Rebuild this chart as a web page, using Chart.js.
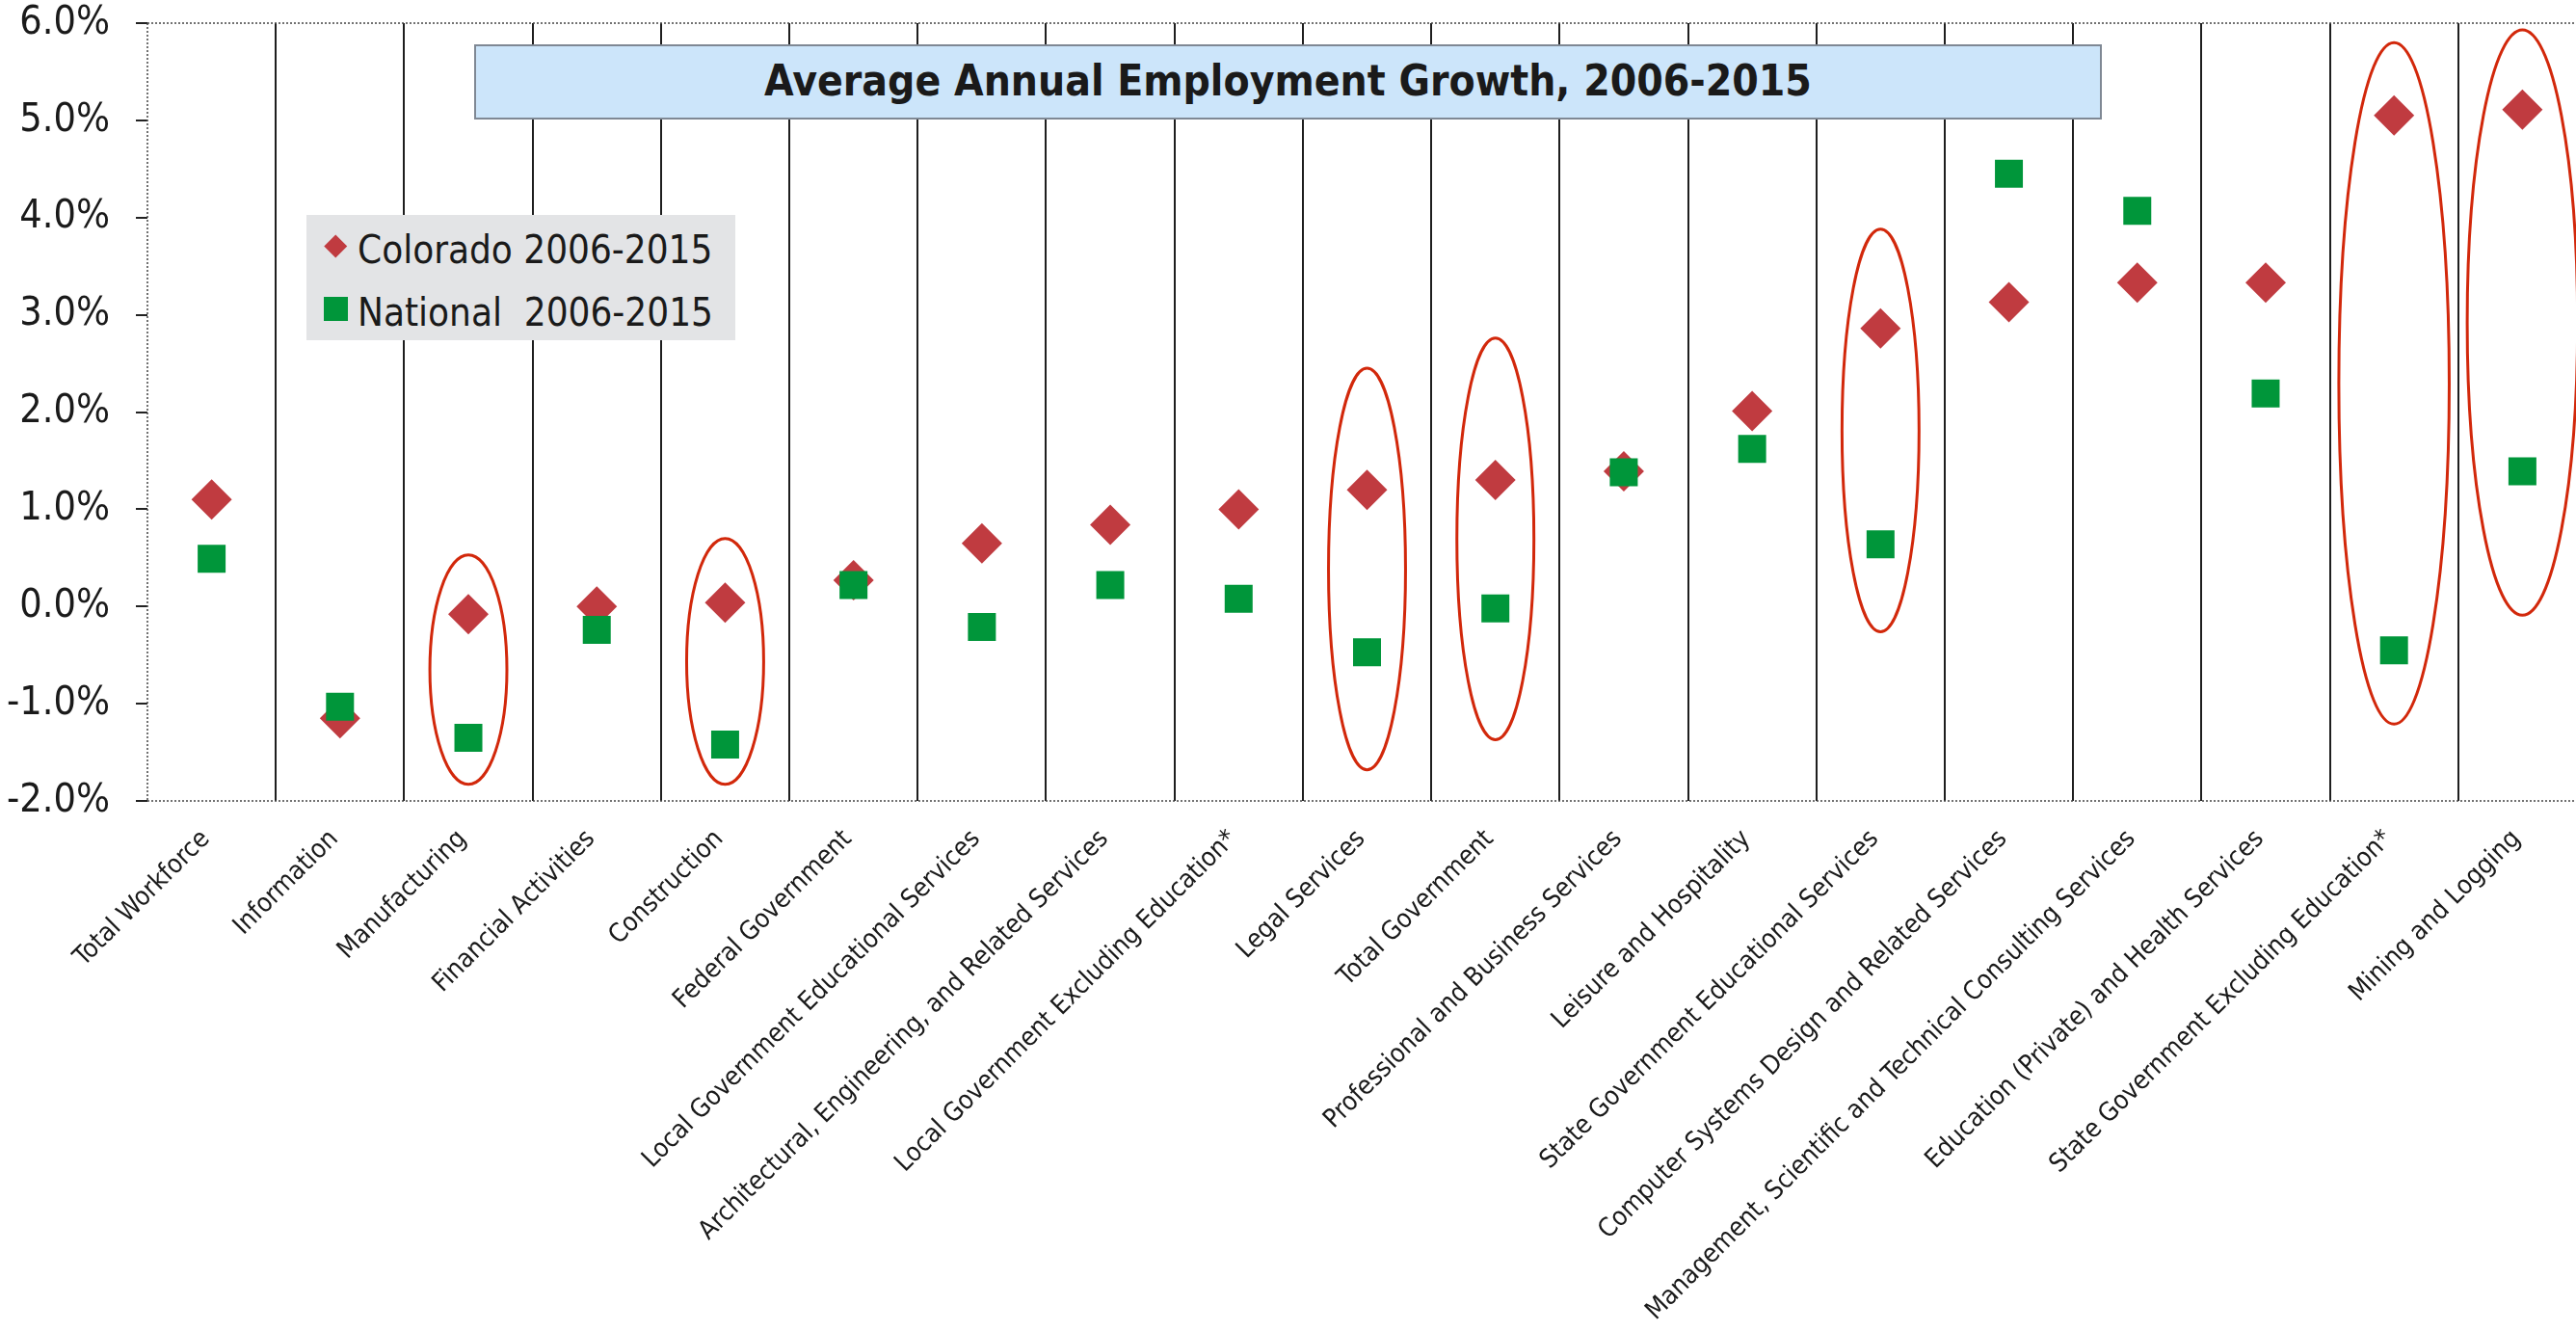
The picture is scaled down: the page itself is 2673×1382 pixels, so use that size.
<!DOCTYPE html>
<html>
<head>
<meta charset="utf-8">
<title>Average Annual Employment Growth, 2006-2015</title>
<script src="https://cdn.jsdelivr.net/npm/chart.js@4.4.1/dist/chart.umd.min.js"></script>
<style>
    html, body { margin: 0; padding: 0; background: #fff; overflow: hidden; }
    #wrap { position: relative; width: 2684px; height: 1382px; }
    #growthChart { position: absolute; left: 0; top: 0; }
    #titleBox {
        position: absolute; left: 492px; top: 46px; width: 1689px; height: 78px;
        box-sizing: border-box; background: #cce5fa; border: 2px solid #7f8894;
        font-family: 'DejaVu Sans Condensed', 'DejaVu Sans', sans-serif; font-weight: bold;
        font-size: 44px; line-height: 72px; text-align: center; color: #1a1a1a;
    }
    #legendBox {
        position: absolute; left: 318px; top: 223px; width: 445px; height: 130px;
        background: #e3e4e6; color: #1a1a1a;
        font-family: 'DejaVu Sans Condensed', 'DejaVu Sans', sans-serif; font-size: 40px;
    }
    #legendBox .row { position: absolute; left: 53px; line-height: 40px; white-space: pre; }
    #legendBox .diamond {
        position: absolute; left: 22px; top: 24px; width: 16.5px; height: 16.5px;
        background: #c03b40; transform: rotate(45deg);
    }
    #legendBox .square {
        position: absolute; left: 18px; top: 85px; width: 25px; height: 25px; background: #00963a;
    }
</style>
</head>
<body>
<div id="wrap">
    <canvas id="growthChart" width="2684" height="1382"></canvas>
    <div id="titleBox">Average Annual Employment Growth, 2006-2015</div>
    <div id="legendBox">
        <div class="diamond"></div>
        <div class="row" style="top:16px">Colorado 2006-2015</div>
        <div class="square"></div>
        <div class="row" style="top:81px">National  2006-2015</div>
    </div>
</div>
<script>
// industries, ordered by Colorado growth
const categories = [
    'Total Workforce',
    'Information',
    'Manufacturing',
    'Financial Activities',
    'Construction',
    'Federal Government',
    'Local Government Educational Services',
    'Architectural, Engineering, and Related Services',
    'Local Government Excluding Education*',
    'Legal Services',
    'Total Government',
    'Professional and Business Services',
    'Leisure and Hospitality',
    'State Government Educational Services',
    'Computer Systems Design and Related Services',
    'Management, Scientific and Technical Consulting Services',
    'Education (Private) and Health Services',
    'State Government Excluding Education*',
    'Mining and Logging'
];

// average annual growth, percent
const coloradoGrowth = [1.10, -1.15, -0.08, 0.00, 0.04, 0.27, 0.65, 0.84, 1.00, 1.20,
    1.30, 1.39, 2.01, 2.86, 3.13, 3.33, 3.33, 5.05, 5.11];
const nationalGrowth = [0.49, -1.03, -1.35, -0.24, -1.42, 0.22, -0.21, 0.22, 0.08, -0.47,
    -0.02, 1.38, 1.62, 0.64, 4.45, 4.07, 2.19, -0.45, 1.39];

const yTickValues = [-2, -1, 0, 1, 2, 3, 4, 5, 6];

// circled industries and the span (in %) each ring covers
const ringCategories = ['Manufacturing', 'Construction', 'Legal Services', 'Total Government',
    'State Government Educational Services', 'State Government Excluding Education*', 'Mining and Logging'];
const ringTop = [0.53, 0.70, 2.45, 2.76, 3.88, 5.80, 5.93];
const ringBottom = [-1.83, -1.83, -1.68, -1.37, -0.26, -1.21, -0.09];

const RING_COLOR = '#d2280b';
const RING_WIDE = ['State Government Excluding Education*', 'Mining and Logging'];

const FONT = "'DejaVu Sans Condensed', 'DejaVu Sans', sans-serif";

function dottedLine(ctx, x1, y1, x2, y2) {
    ctx.beginPath();
    ctx.moveTo(x1, y1);
    ctx.lineTo(x2, y2);
    ctx.stroke();
}

// dotted frame + red rings around the highlighted pairs
const extrasPlugin = {
    id: 'extras',
    afterDatasetsDraw(chart) {
        const ctx = chart.ctx;
        const area = chart.chartArea;
        const xs = chart.scales.x;
        const ys = chart.scales.y;
        ctx.save();
        ctx.strokeStyle = '#444';
        ctx.lineWidth = 1.5;
        ctx.setLineDash([2, 2]);
        dottedLine(ctx, area.left, area.top, area.right, area.top);
        dottedLine(ctx, area.left, area.bottom, area.right, area.bottom);
        dottedLine(ctx, area.left, area.top, area.left, area.bottom);
        ctx.setLineDash([]);

        const step = xs.getPixelForValue(1) - xs.getPixelForValue(0);
        ctx.strokeStyle = RING_COLOR;
        ctx.lineWidth = 3;
        ringCategories.forEach(function(name, i) {
            const idx = categories.indexOf(name);
            const cx = xs.getPixelForValue(idx);
            const top = ys.getPixelForValue(ringTop[i]);
            const bottom = ys.getPixelForValue(ringBottom[i]);
            const rx = step * (RING_WIDE.includes(name) ? 0.86 : 0.6) / 2;
            ctx.beginPath();
            ctx.ellipse(cx, (top + bottom) / 2, rx, (bottom - top) / 2, 0, 0, Math.PI * 2);
            ctx.stroke();
        });
        ctx.restore();
    }
};

var ctx = document.getElementById('growthChart');
var myChart = new Chart(ctx, {
    type: 'line',
    data: {
        labels: categories,
        datasets: [{
            label: 'Colorado 2006-2015',
            data: coloradoGrowth,
            showLine: false,
            pointStyle: 'rectRot',
            pointRadius: 21,
            pointHoverRadius: 21,
            pointBackgroundColor: '#c03b40',
            pointBorderWidth: 0,
            order: 1
        }, {
            label: 'National  2006-2015',
            data: nationalGrowth,
            showLine: false,
            pointStyle: 'rect',
            pointRadius: 20.5,
            pointHoverRadius: 20.5,
            pointBackgroundColor: '#00963a',
            pointBorderWidth: 0,
            order: 0
        }]
    },
    options: {
        responsive: false,
        devicePixelRatio: 1,
        animation: false,
        events: [],
        layout: { autoPadding: false, padding: { top: 24, left: 0, right: 0, bottom: 0 } },
        plugins: {
            legend: { display: false },
            title: { display: false },
            tooltip: { enabled: false }
        },
        scales: {
            x: {
                offset: true,
                grid: {
                    offset: true,
                    color: (c) => c.index === 0 ? 'rgba(0,0,0,0)' : '#1e1e1e',
                    lineWidth: 2,
                    drawTicks: false
                },
                border: { display: false },
                ticks: {
                    autoSkip: false,
                    minRotation: 45,
                    maxRotation: 45,
                    padding: 24,
                    labelOffset: -6,
                    color: '#1a1a1a',
                    font: { family: FONT, size: 27 }
                },
                afterFit(scale) {
                    scale.height = 551;
                    scale.paddingLeft = 0;
                    scale.paddingRight = 0;
                }
            },
            y: {
                min: -2,
                max: 6,
                afterBuildTicks(scale) {
                    scale.ticks = yTickValues.map(v => ({ value: v }));
                },
                ticks: {
                    padding: 27,
                    color: '#1a1a1a',
                    font: { family: FONT, size: 41 },
                    callback: (v) => v.toFixed(1) + '%'
                },
                grid: { drawOnChartArea: false, drawTicks: true, tickLength: 12, color: '#222', lineWidth: 2 },
                border: { display: false },
                afterFit(scale) {
                    scale.width = 153;
                    scale.paddingTop = 0;
                    scale.paddingBottom = 0;
                }
            }
        }
    },
    plugins: [extrasPlugin]
});
</script>
</body>
</html>
